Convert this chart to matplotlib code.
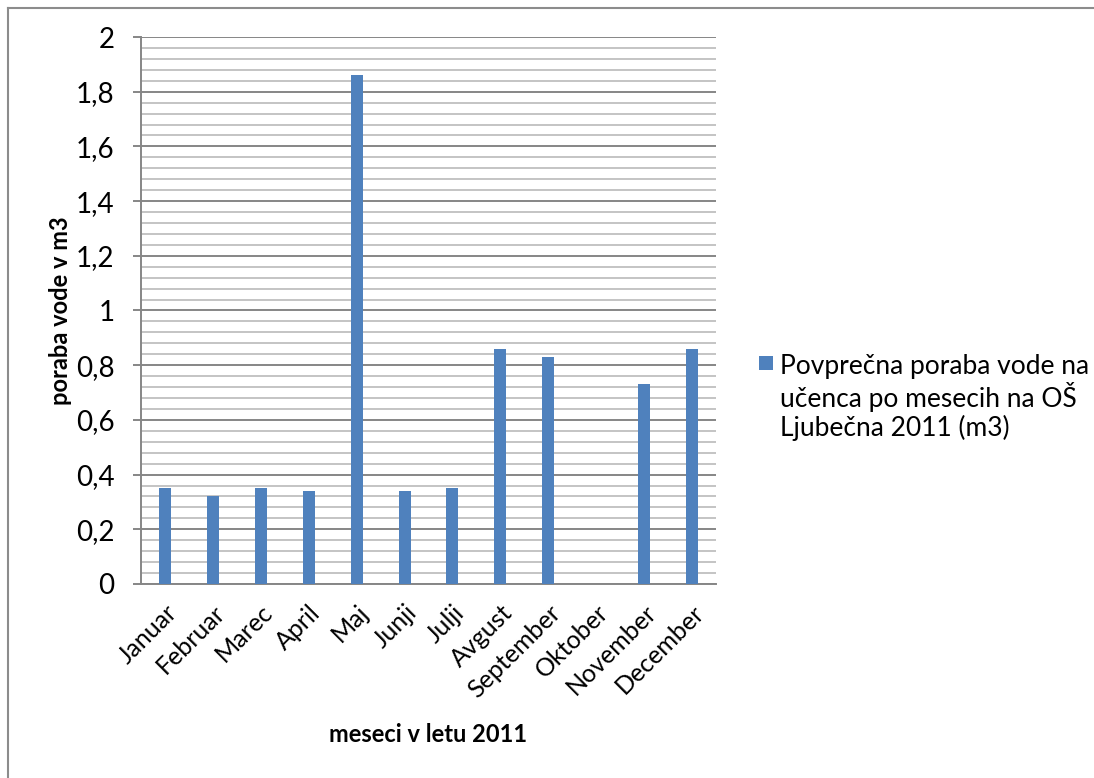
import matplotlib
matplotlib.use("Agg")
import matplotlib.pyplot as plt
from matplotlib.ticker import MultipleLocator, FuncFormatter
from matplotlib.lines import Line2D
from matplotlib.patches import Rectangle

months = ["Januar", "Februar", "Marec", "April", "Maj", "Junji", "Julji",
          "Avgust", "September", "Oktober", "November", "December"]
values = [0.35, 0.32, 0.35, 0.34, 1.86, 0.34, 0.35, 0.86, 0.83, 0.0, 0.73, 0.86]
series_label = "Povprečna poraba vode na\nučenca po mesecih na OŠ\nLjubečna 2011 (m3)"
y_label = "poraba vode v m3"
x_label = "meseci v letu 2011"

plt.rcParams['font.family'] = ['Lato', 'DejaVu Sans']

W, H = 1094, 778
fig = plt.figure(figsize=(W/100, H/100), dpi=100)
ax = fig.add_axes([141/W, 1-584/H, (716-141)/W, (584-37)/H])

bar_color = "#4F81BD"
x = list(range(len(months)))
ax.bar(x, values, width=0.25, color=bar_color, zorder=3, label=series_label)

ax.set_xlim(-0.5, len(months) - 0.5)
ax.set_ylim(0, 2)
ax.yaxis.set_major_locator(MultipleLocator(0.2))
ax.yaxis.set_minor_locator(MultipleLocator(0.04))
ax.yaxis.set_major_formatter(FuncFormatter(lambda v, p: ("%g" % round(v, 2)).replace(".", ",")))
ax.grid(which="major", axis="y", color="#868686", linewidth=1.4, zorder=1)
ax.grid(which="minor", axis="y", color="#c4c4c4", linewidth=1.4, zorder=0)
ax.tick_params(axis="y", which="major", length=6, width=1.4, color="#868686",
               labelsize=20, pad=13)
ax.tick_params(axis="y", which="minor", length=0)
ax.tick_params(axis="x", length=0, labelsize=18, pad=12)
ax.set_xticks(x)
ax.set_xticklabels(months, rotation=45, ha="right", rotation_mode="anchor")

for s in ["top", "right"]:
    ax.spines[s].set_visible(False)
for s in ["left", "bottom"]:
    ax.spines[s].set_color("#868686")
    ax.spines[s].set_linewidth(1.4)

ax.set_ylabel(y_label, fontsize=17, fontweight="bold", va="center")
ax.yaxis.set_label_coords((60-141)/(716-141), 0.5)
ax.set_xlabel(x_label, fontsize=17, fontweight="bold", va="center")
ax.xaxis.set_label_coords(0.5, -(735-584)/(584-37))

# legend (single series): colour square + wrapped label
fig.add_artist(Rectangle((759/W, 1-370/H), 14/W, 14/H, transform=fig.transFigure,
                         facecolor=bar_color, edgecolor="none"))
fig.text(780/W, 1-436/H, series_label, fontsize=19, va="baseline", ha="left",
         linespacing=1.13)

# outer chart border
fig.add_artist(Line2D([8/W, 8/W], [0, 1-8/H], color="#8c8c8c", lw=1.5))
fig.add_artist(Line2D([8/W, 1], [1-8/H, 1-8/H], color="#8c8c8c", lw=1.5))

fig.savefig("out.png", dpi=100)
